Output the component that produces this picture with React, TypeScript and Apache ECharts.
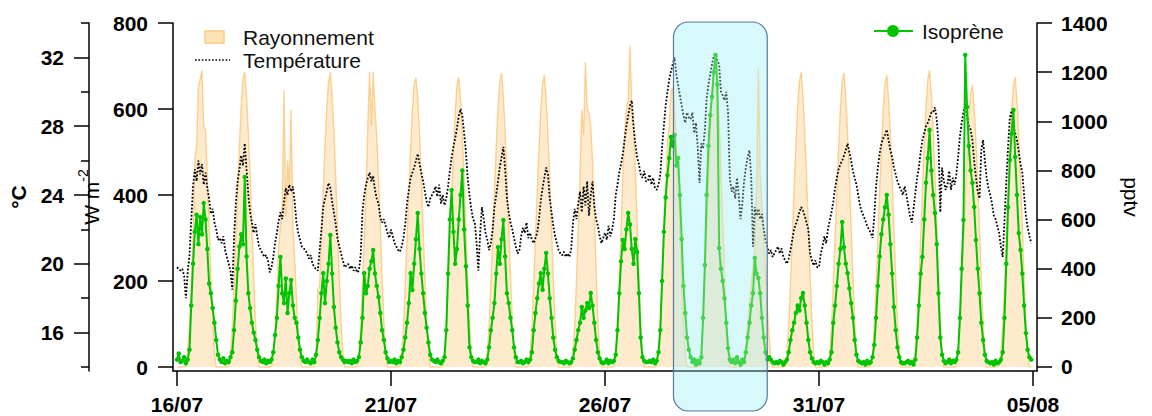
import React, { useEffect, useRef } from "react";
import * as echarts from "echarts";

// x values are days since 16/07 00:00, one value per hour
const tickDays = [0, 5, 10, 15, 20];
const tickLabels = ["16/07", "21/07", "26/07", "31/07", "05/08"];
const highlightDays = [11.6, 13.79];
const tempTicks = [16, 20, 24, 28, 32];
const tempMinorTicks = [14, 18, 22, 26, 30, 34];
const radTicks = [0, 200, 400, 600, 800];
const isoTicks = [0, 200, 400, 600, 800, 1000, 1200, 1400];

const radiation = [
  0,0,0,0,0,3,35,97,193,304,480,518,650,669,690,560,552,449,331,214,110,35,0,0,
  0,0,0,0,0,3,33,95,190,300,410,515,605,672,686,630,548,445,330,210,108,33,0,0,
  0,0,0,0,0,2,28,85,175,280,330,380,644,350,480,420,598,330,250,160,80,25,0,0,
  0,0,0,0,0,3,34,180,190,300,410,515,600,665,686,630,548,445,330,210,108,33,0,0,
  0,0,0,0,0,3,34,95,190,300,410,560,686,560,686,600,540,440,330,210,108,33,0,0,
  0,0,0,0,0,3,34,95,190,299,407,509,598,659,672,625,543,441,326,210,109,34,0,0,
  0,0,0,0,0,3,34,94,189,297,404,506,593,654,674,620,539,438,324,209,108,34,0,0,
  0,0,0,0,0,3,34,96,192,301,410,513,602,663,684,629,547,445,328,212,109,34,0,0,
  0,0,0,0,0,3,33,95,190,298,406,510,597,658,679,624,542,440,325,210,108,34,0,0,
  0,0,0,0,0,2,30,95,200,320,450,598,540,709,600,590,560,480,360,230,110,30,0,0,
  0,0,0,0,0,3,35,100,200,320,440,550,600,620,749,600,560,460,340,220,110,35,0,0,
  0,0,0,0,0,3,33,95,190,300,410,520,560,640,650,600,520,430,320,200,100,30,0,0,
  0,0,0,0,0,3,36,100,200,320,430,540,640,700,720,660,570,460,340,220,110,35,0,0,
  0,0,0,0,0,2,20,50,100,150,190,230,280,420,695,450,380,300,220,140,70,20,0,0,
  0,0,0,0,0,3,34,96,192,302,412,515,604,665,686,631,549,446,329,213,110,34,0,0,
  0,0,0,0,0,3,34,96,192,301,410,513,602,663,684,629,547,445,328,212,109,34,0,0,
  0,0,0,0,0,3,34,95,190,299,407,509,598,659,679,625,543,441,326,210,109,34,0,0,
  0,0,0,0,0,3,35,97,193,304,414,518,607,669,690,635,552,449,331,214,110,35,0,0,
  0,0,0,0,0,3,33,92,184,289,394,492,577,636,656,604,525,426,315,203,105,33,0,0,
  0,0,0,0,0,3,34,94,189,297,404,506,593,654,674,620,539,438,324,209,108,34,0,0,
];

const temperature = [
  19.8,19.7,19.6,19.7,19.3,18.0,19.5,20.5,22.5,24.5,25.5,24.8,26.0,25.2,25.8,24.6,25.3,24.4,23.8,22.9,23.2,22.4,22.0,21.4,
  21.5,21.2,21.6,20.8,20.4,20.0,19.6,18.5,21.5,23.5,24.8,25.5,26.3,25.7,27.0,25.5,24.0,23.0,22.4,21.8,22.3,21.6,21.0,20.8,
  20.6,20.4,20.5,20.2,19.5,19.8,20.4,21.2,21.8,22.5,23.0,22.6,23.6,24.4,24.0,24.6,24.2,24.5,23.6,22.4,21.8,21.4,21.0,20.9,
  20.8,20.6,20.3,20.5,20.0,19.8,19.7,19.6,20.8,22.0,23.3,23.8,24.2,24.7,24.4,23.6,23.0,22.3,21.5,21.0,20.6,20.2,19.8,19.9,
  20.0,19.7,19.9,19.6,19.8,19.5,19.6,20.5,23.0,24.0,24.6,25.0,25.3,24.8,25.1,24.3,23.8,23.5,22.7,22.4,22.6,22.2,21.8,21.5,
  22.0,21.6,21.2,21.0,20.8,20.7,21.0,21.5,22.3,23.5,24.3,25.0,25.3,25.6,26.0,26.4,25.8,25.3,24.8,24.2,23.6,23.3,23.8,24.0,
  24.2,24.5,23.9,24.6,23.5,24.0,23.4,23.8,24.5,25.4,26.2,26.8,27.3,27.9,28.6,29.0,28.6,27.6,26.5,25.0,24.0,23.2,22.6,22.4,
  21.2,19.6,21.8,23.3,22.6,21.8,21.4,20.8,21.2,22.0,23.3,24.0,24.8,25.6,26.2,26.8,25.5,23.8,23.0,22.4,22.0,21.5,21.0,20.6,
  20.8,21.6,22.1,21.8,22.4,21.5,21.8,21.4,21.2,21.5,21.8,22.6,23.7,24.4,25.0,25.6,25.2,23.8,23.0,22.2,21.6,21.2,20.8,20.6,
  20.5,20.7,20.4,20.6,20.4,20.8,22.3,23.2,22.6,23.5,24.2,23.0,24.5,23.4,24.8,22.8,24.0,24.8,23.4,22.6,22.2,21.6,21.2,21.5,
  21.8,21.4,22.2,21.6,22.0,22.6,24.0,24.6,25.3,25.8,26.4,27.2,28.0,28.6,29.2,29.5,28.0,27.0,26.2,25.8,25.2,25.0,25.4,24.8,
  24.8,25.2,24.6,25.0,24.4,24.3,24.6,25.2,26.8,28.0,29.2,30.0,30.7,31.2,31.6,32.0,31.0,30.4,29.8,29.2,28.6,28.2,28.8,28.5,
  28.4,28.8,27.6,28.2,26.8,24.7,27.0,26.7,27.8,29.6,30.4,31.0,31.6,32.1,32.2,31.8,31.6,30.0,29.8,29.5,30.0,28.8,25.0,24.2,
  24.5,23.8,25.0,24.0,22.6,23.5,24.8,25.6,26.2,26.6,25.0,21.0,23.3,22.8,23.2,22.6,22.9,22.0,21.4,21.0,20.6,20.8,20.4,20.6,
  20.8,21.0,20.6,20.9,20.4,20.2,20.0,20.3,20.8,21.4,22.0,22.3,22.6,23.0,23.3,23.1,22.8,22.4,22.0,20.6,20.2,19.9,20.2,19.8,
  19.8,20.6,21.0,21.6,21.2,22.0,22.5,23.0,23.6,24.4,25.0,25.5,25.8,26.0,26.3,26.6,27.0,26.5,26.0,25.4,25.0,24.6,24.0,23.4,
  23.0,22.8,22.5,22.2,22.0,21.8,21.5,22.8,24.5,25.6,26.4,27.0,27.3,27.5,27.8,27.2,26.6,26.2,25.6,25.2,24.8,24.5,24.3,24.0,
  24.5,24.0,23.4,22.8,22.4,23.2,24.1,25.0,25.6,26.5,27.2,27.6,28.0,28.2,28.5,28.8,28.8,29.1,28.4,27.0,23.0,25.6,24.8,24.3,
  24.6,25.4,24.3,25.0,24.6,25.2,26.2,27.4,28.2,28.8,29.3,28.6,28.0,27.8,27.2,26.0,25.0,24.2,23.8,26.6,27.2,26.0,25.0,24.4,
  24.0,23.5,22.8,22.6,22.2,21.8,21.0,20.4,22.5,24.7,26.8,28.5,28.9,28.0,27.6,27.2,26.5,25.8,25.3,24.0,22.8,22.1,21.6,21.2,
];

const isoprene = [
  30,55,20,25,40,15,30,70,250,420,550,620,500,610,540,667,600,480,340,300,240,180,110,50,
  30,20,35,15,25,20,40,60,150,270,400,490,540,500,773,450,300,240,180,140,110,70,40,25,
  20,30,15,25,20,30,60,130,200,330,448,300,260,360,220,300,354,250,200,180,120,70,40,25,
  20,30,20,15,30,20,50,110,200,300,382,260,350,420,537,380,244,160,100,60,40,30,20,25,
  20,25,15,30,20,25,40,100,200,382,300,330,400,430,476,380,330,285,220,150,110,60,35,20,
  25,20,30,15,25,20,40,70,120,180,260,382,313,420,520,627,480,380,300,220,160,100,50,30,
  25,20,30,20,15,25,40,150,380,600,720,550,420,480,600,700,800,560,410,250,80,40,25,20,
  20,30,15,25,20,15,30,80,150,200,260,380,488,420,520,598,450,300,260,200,150,80,40,20,
  20,25,15,20,30,20,30,60,150,220,280,340,382,314,400,464,380,280,200,120,70,40,25,20,
  20,15,25,20,15,20,35,70,110,150,180,244,200,230,260,240,301,250,180,110,60,35,20,15,
  20,30,15,25,20,25,50,150,300,430,517,480,560,627,580,480,420,520,468,300,120,40,25,20,
  20,25,20,30,15,25,60,150,350,550,690,780,850,936,900,944,820,850,700,520,330,220,120,70,
  40,20,30,10,25,15,40,200,415,700,900,1025,1100,1200,1270,1150,484,400,350,280,180,77,30,20,
  30,15,40,20,10,30,20,60,120,180,250,300,444,380,362,300,200,120,60,30,40,30,20,15,
  20,15,25,20,10,20,30,60,110,150,180,220,250,230,280,301,250,180,110,60,35,20,15,20,
  15,25,20,10,20,15,30,60,180,250,330,420,480,590,488,420,382,320,260,200,110,50,25,20,
  15,20,10,25,15,20,40,90,200,330,450,540,600,650,700,620,500,380,244,150,80,40,20,15,
  15,20,25,15,20,10,30,120,250,380,448,600,750,850,965,800,700,627,500,300,120,50,25,15,
  20,30,15,25,20,30,60,200,400,598,1270,1058,900,800,750,651,517,400,300,180,110,50,25,20,
  15,20,10,25,15,20,30,60,200,420,650,842,950,1046,855,700,545,476,380,250,138,70,40,30,
];

const FONT = "'Liberation Sans', Arial, sans-serif";

export default function App() {
  const ref = useRef<HTMLDivElement>(null);

  useEffect(() => {
    const chart = echarts.init(ref.current!, null, { renderer: "svg" });
    const pairs = (arr: number[]) => arr.map((v, i) => [i / 24, v]);
    const labelStyle = { color: "#000", fontSize: 21, fontWeight: "bold" as const, fontFamily: FONT };
    const axisLine = { show: true, onZero: false, lineStyle: { color: "#000", width: 1.5 } };
    const tickLine = { color: "#000", width: 1.5 };
    const plain = (v: number) => String(Math.round(v));

    chart.setOption({
      animation: false,
      backgroundColor: "#fff",
      grid: { left: 172, right: 115, top: 23, bottom: 45 },
      xAxis: {
        type: "value",
        min: -0.093,
        max: 20.093,
        z: 3,
        axisLine,
        splitLine: { show: false },
        axisTick: { customValues: tickDays, length: 15, lineStyle: tickLine },
        axisLabel: {
          ...labelStyle,
          customValues: tickDays,
          margin: 23,
          formatter: (v: number) => tickLabels[tickDays.indexOf(Math.round(v))] ?? "",
        },
      },
      yAxis: [
        {
          type: "value",
          position: "left",
          offset: 84,
          min: 13.77,
          max: 34,
          z: 3,
          axisLine,
          splitLine: { show: false },
          axisTick: { customValues: tempTicks, length: 15, lineStyle: tickLine },
          axisLabel: { ...labelStyle, customValues: tempTicks, margin: 25, formatter: plain },
          name: "°C",
          nameLocation: "middle",
          nameRotate: 90,
          nameGap: 60,
          nameTextStyle: { color: "#000", fontSize: 21, fontWeight: "bold", fontFamily: FONT },
        },
        {
          type: "value",
          position: "left",
          offset: 0,
          min: -9.3,
          max: 800,
          z: 3,
          axisLine,
          splitLine: { show: false },
          axisTick: { customValues: radTicks, length: 15, lineStyle: tickLine },
          axisLabel: { ...labelStyle, customValues: radTicks, margin: 25, formatter: plain },
          name: "{a|W m}{b|-2}",
          nameLocation: "middle",
          nameRotate: 90,
          nameGap: 56,
          nameTextStyle: {
            color: "#000",
            fontFamily: FONT,
            rich: {
              a: { fontSize: 21, fontFamily: FONT, color: "#000", lineHeight: 26, verticalAlign: "bottom" },
              b: { fontSize: 14, fontFamily: FONT, color: "#000", lineHeight: 26, verticalAlign: "top" },
            },
          },
        },
        {
          type: "value",
          position: "right",
          offset: 0,
          min: -16.3,
          max: 1400,
          z: 3,
          axisLine,
          splitLine: { show: false },
          axisTick: { customValues: isoTicks, length: 15, lineStyle: tickLine },
          axisLabel: { ...labelStyle, customValues: isoTicks, margin: 24, formatter: plain },
          name: "pptv",
          nameLocation: "middle",
          nameRotate: -90,
          nameGap: 84,
          nameTextStyle: { color: "#000", fontSize: 21, fontFamily: FONT },
        },
        {
          type: "value",
          position: "left",
          offset: 84,
          min: 13.77,
          max: 34,
          z: 3,
          axisLine: { show: false, onZero: false },
          splitLine: { show: false },
          axisTick: { customValues: tempMinorTicks, length: 8, lineStyle: tickLine },
          axisLabel: { show: false },
        },
      ],
      series: [
        {
          name: "Rayonnement",
          type: "line",
          yAxisIndex: 1,
          data: pairs(radiation),
          showSymbol: false,
          symbol: "none",
          lineStyle: { color: "rgba(250,172,60,0.5)", width: 1.4 },
          areaStyle: { color: "rgba(250,180,70,0.38)" },
          z: 2,
        },
        {
          name: "Température",
          type: "line",
          yAxisIndex: 0,
          data: pairs(temperature),
          showSymbol: false,
          symbol: "none",
          lineStyle: { color: "#000", width: 1.8, type: [1.8, 1.8] },
          z: 3,
        },
        {
          name: "Isoprène",
          type: "line",
          yAxisIndex: 2,
          data: pairs(isoprene),
          symbol: "circle",
          symbolSize: 4.5,
          showSymbol: true,
          itemStyle: { color: "#00c400" },
          lineStyle: { color: "#00c400", width: 2 },
          z: 4,
        },
      ],
    });

    const x0 = chart.convertToPixel({ xAxisIndex: 0 }, highlightDays[0]) as number;
    const x1 = chart.convertToPixel({ xAxisIndex: 0 }, highlightDays[1]) as number;
    const textStyle = { font: `21px ${FONT}`, fill: "#111", verticalAlign: "middle" };

    chart.setOption({
      graphic: [
        {
          type: "rect",
          z: 0,
          shape: { x: x0, y: 22, width: x1 - x0, height: 389, r: 15 },
          style: { fill: "#d7fafc" },
        },
        {
          type: "rect",
          z: 100,
          shape: { x: x0, y: 22, width: x1 - x0, height: 389, r: 15 },
          style: { fill: "rgba(215,250,252,0.3)", stroke: "#56789a", lineWidth: 1.2 },
        },
        {
          type: "rect",
          z: 100,
          shape: { x: 205, y: 31, width: 19, height: 12 },
          style: { fill: "#fde3b5", stroke: "#fdca80", lineWidth: 1.5 },
        },
        { type: "text", z: 100, style: { ...textStyle, text: "Rayonnement", x: 243, y: 37 } },
        {
          type: "line",
          z: 100,
          shape: { x1: 195, y1: 60, x2: 230, y2: 60 },
          style: { stroke: "#000", lineWidth: 1.6, lineDash: [1.6, 1.8] },
        },
        { type: "text", z: 100, style: { ...textStyle, text: "Température", x: 243, y: 60 } },
        {
          type: "line",
          z: 100,
          shape: { x1: 874, y1: 31, x2: 913, y2: 31 },
          style: { stroke: "#00c400", lineWidth: 2 },
        },
        { type: "circle", z: 100, shape: { cx: 893, cy: 31, r: 6 }, style: { fill: "#00c400" } },
        { type: "text", z: 100, style: { ...textStyle, text: "Isoprène", x: 922, y: 31 } },
      ],
    });

    return () => chart.dispose();
  }, []);

  return (
    <div
      ref={ref}
      style={{ position: "fixed", left: 0, top: 0, width: 1152, height: 416, background: "#fff" }}
    />
  );
}
